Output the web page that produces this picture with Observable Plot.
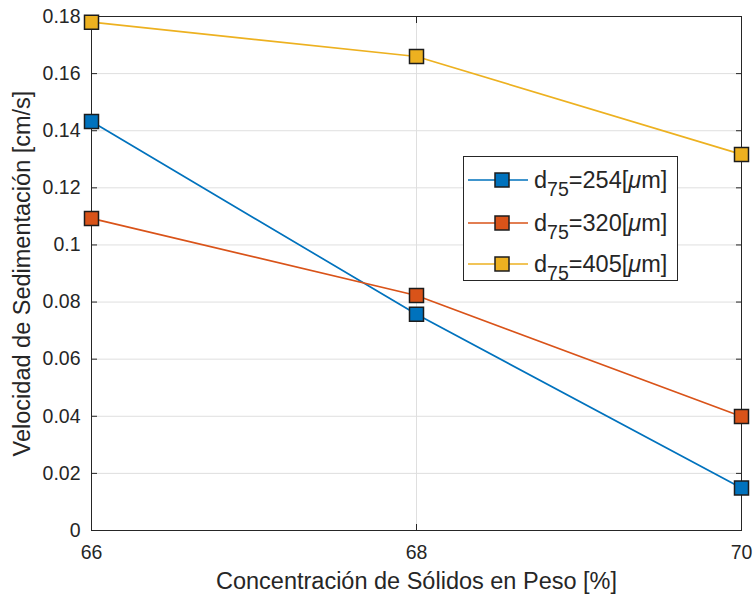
<!DOCTYPE html>
<html>
<head>
<meta charset="utf-8">
<script src="https://cdn.jsdelivr.net/npm/d3@7"></script>
<script src="https://cdn.jsdelivr.net/npm/@observablehq/plot@0.6"></script>
<style>
  body { margin: 0; background: #fff; font-family: "Liberation Sans", Arial, Helvetica, sans-serif; }
  #wrap { position: relative; width: 756px; height: 598px; }
  #legend { position: absolute; left: 463px; top: 156px; width: 213px; height: 123px;
    border: 1px solid #262626; background: #fff; }
  .row { position: absolute; left: 0; height: 30px; display: flex; align-items: center; }
  .row svg { display: block; margin-left: 4px; }
  .lab { margin-left: 6px; font-size: 23.5px; color: #262626; white-space: nowrap; }
  .lab sub { font-size: 19.5px; vertical-align: -8px; line-height: 0; }
</style>
</head>
<body>
<div id="wrap">
  <div id="chart"></div>
  <div id="legend"></div>
</div>
<script>
// ---- data ----
const concentracion = [66, 68, 70];
const serieNombres = ["254", "320", "405"];
const serieColores = ["#0072BD", "#D95319", "#EDB120"];
const vel254 = [0.1432, 0.0757, 0.0149];
const vel320 = [0.1093, 0.0823, 0.0399];
const vel405 = [0.1780, 0.1660, 0.1317];
const xTicks = [66, 68, 70];
const xTickLabels = ["66", "68", "70"];
const yTicks = [0, 0.02, 0.04, 0.06, 0.08, 0.1, 0.12, 0.14, 0.16, 0.18];
const yTickLabels = ["0", "0.02", "0.04", "0.06", "0.08", "0.1", "0.12", "0.14", "0.16", "0.18"];
const xLabel = "Concentración de Sólidos en Peso [%]";
const yLabel = "Velocidad de Sedimentación [cm/s]";

const valores = [vel254, vel320, vel405];
const datos = [];
serieNombres.forEach((s, i) => concentracion.forEach((c, j) =>
  datos.push({serie: s, conc: c, vel: valores[i][j]})));

const axisColor = "#262626";
const font = "'Liberation Sans', Arial, Helvetica, sans-serif";

const chart = Plot.plot({
  width: 756,
  height: 598,
  marginLeft: 91,
  marginRight: 15,
  marginTop: 16,
  marginBottom: 68,
  style: {fontFamily: font, color: axisColor, background: "#fff"},
  x: {domain: [66, 70], axis: null},
  y: {domain: [0, 0.18], axis: null},
  color: {domain: serieNombres, range: serieColores},
  marks: [
    Plot.gridX(xTicks, {stroke: "#dfdfdf", strokeOpacity: 1}),
    Plot.gridY(yTicks, {stroke: "#dfdfdf", strokeOpacity: 1}),
    Plot.frame({stroke: axisColor, strokeWidth: 1}),
    Plot.axisX(xTicks, {anchor: "bottom", tickSize: -6, tickPadding: 21, fontSize: 19.5, stroke: axisColor, fill: axisColor,
      tickFormat: d => xTickLabels[xTicks.indexOf(d)], label: null}),
    Plot.axisX(xTicks, {anchor: "top", tickSize: -6, tickFormat: () => "", stroke: axisColor, label: null}),
    Plot.axisY(yTicks, {anchor: "left", tickSize: -6, tickPadding: 17, fontSize: 19.5, stroke: axisColor, fill: axisColor,
      tickFormat: d => yTickLabels[yTicks.indexOf(d)], label: null}),
    Plot.axisY(yTicks, {anchor: "right", tickSize: -6, tickFormat: () => "", stroke: axisColor, label: null}),
    Plot.line(datos, {x: "conc", y: "vel", z: "serie", stroke: "serie", strokeWidth: 1.7}),
    Plot.dot(datos, {x: "conc", y: "vel", fill: "serie", symbol: "square", r: 7.9, stroke: "#1c1c1c", strokeWidth: 1.5}),
    Plot.text([xLabel], {text: d => d, frameAnchor: "bottom", textAnchor: "middle", lineAnchor: "middle", dy: 51, fontSize: 23.5, fill: axisColor}),
    Plot.text([yLabel], {text: d => d, frameAnchor: "left", textAnchor: "middle", lineAnchor: "middle", dx: -69, rotate: -90, fontSize: 23.5, fill: axisColor})
  ]
});
document.getElementById("chart").appendChild(chart);

// legend
const legend = document.getElementById("legend");
const rowTops = [8, 51, 92];
serieNombres.forEach((s, i) => {
  const row = document.createElement("div");
  row.className = "row";
  row.style.top = rowTops[i] + "px";
  row.innerHTML = `<svg width="60" height="30"><line x1="0" y1="15" x2="60" y2="15" stroke="${serieColores[i]}" stroke-width="1.7"/>` +
    `<rect x="27" y="8" width="14" height="14" fill="${serieColores[i]}" stroke="#1c1c1c" stroke-width="1.5"/></svg>` +
    `<span class="lab">d<sub>75</sub>=${s}[<i>μ</i>m]</span>`;
  legend.appendChild(row);
});
</script>
</body>
</html>
